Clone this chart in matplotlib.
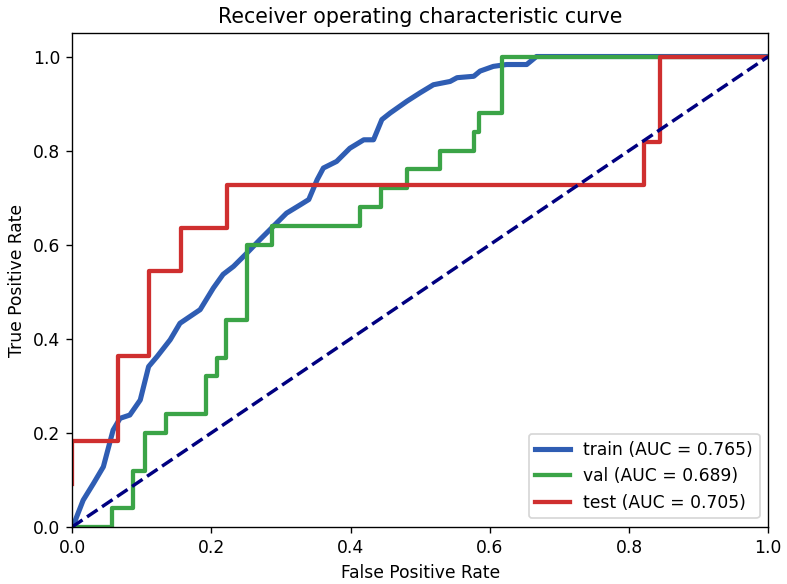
import matplotlib
matplotlib.use("Agg")
import matplotlib.pyplot as plt

# train roc (dense curve)
train_fpr = [0, 0.002, 0.016, 0.031, 0.045, 0.059, 0.069, 0.083, 0.098, 0.110,
             0.122, 0.141, 0.155, 0.184, 0.203, 0.217, 0.232, 0.251, 0.270, 0.289,
             0.308, 0.328, 0.340, 0.352, 0.361, 0.380, 0.399, 0.419, 0.433, 0.445,
             0.457, 0.481, 0.500, 0.519, 0.543, 0.553, 0.577, 0.586, 0.605, 0.624,
             0.653, 0.667, 1.0]
train_tpr = [0, 0.004, 0.057, 0.093, 0.128, 0.206, 0.231, 0.238, 0.270, 0.341,
             0.362, 0.398, 0.433, 0.462, 0.508, 0.537, 0.554, 0.582, 0.611, 0.639,
             0.667, 0.685, 0.696, 0.738, 0.763, 0.777, 0.805, 0.823, 0.823, 0.866,
             0.880, 0.905, 0.923, 0.940, 0.947, 0.955, 0.958, 0.969, 0.979, 0.983,
             0.983, 1.0, 1.0]

# val roc steps (tpr after the jump at each fpr)
val_fpr = [0, 0.057, 0.087, 0.105, 0.135, 0.192, 0.208, 0.221, 0.251, 0.287,
           0.414, 0.444, 0.481, 0.529, 0.578, 0.585, 0.617, 1.0]
val_tpr = [0, 0.04, 0.12, 0.20, 0.24, 0.32, 0.36, 0.44, 0.60, 0.64,
           0.68, 0.72, 0.76, 0.80, 0.84, 0.88, 1.0, 1.0]

# test roc steps
test_fpr = [0, 0, 0.0667, 0.111, 0.156, 0.222, 0.822, 0.844, 1.0]
test_tpr = [0.091, 0.182, 0.364, 0.545, 0.636, 0.727, 0.818, 1.0, 1.0]

auc_train, auc_val, auc_test = 0.765, 0.689, 0.705

fig, ax = plt.subplots(figsize=(6.4, 4.748), dpi=123)
fig.subplots_adjust(left=0.0915, right=0.976, bottom=0.0976, top=0.9435)

ax.plot(train_fpr, train_tpr, color="#2f5db3", lw=3,
        label="train (AUC = %0.3f)" % auc_train)
ax.step(val_fpr, val_tpr, where="post", color="#3ba447", lw=2.5,
        label="val (AUC = %0.3f)" % auc_val)
ax.step(test_fpr, test_tpr, where="post", color="#cf2f2f", lw=2.5,
        label="test (AUC = %0.3f)" % auc_test)
ax.plot([0, 1], [0, 1], color="navy", lw=2, linestyle="--")

ax.set_xlim(0.0, 1.0)
ax.set_ylim(0.0, 1.05)
ax.set_xlabel("False Positive Rate")
ax.set_ylabel("True Positive Rate")
ax.set_title("Receiver operating characteristic curve")
ax.legend(loc="lower right")

fig.savefig("out.png", dpi=123)
